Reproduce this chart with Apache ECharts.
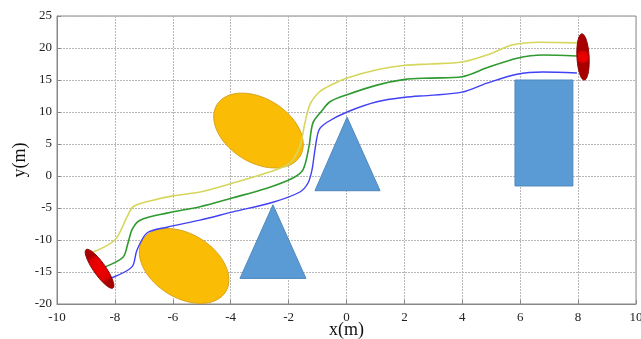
<!DOCTYPE html>
<html>
<head>
<meta charset="utf-8">
<script src="https://cdn.jsdelivr.net/npm/echarts@6/dist/echarts.min.js"></script>
<style>
  html, body { margin: 0; padding: 0; background: #fff; }
  #main { width: 641px; height: 339px; }
</style>
</head>
<body>
<div id="main"></div>
<script>
// trajectories [x, y] in metres
var yellowPath = [[-8.76,-11.9],[-8.0,-10.0],[-7.58,-6.4],[-7.37,-4.8],[-6.79,-3.9],[-6.0,-3.1],[-5.06,-2.5],[-3.92,-1.1],[-2.75,0.5],[-1.95,2.0],[-1.6,4.8],[-1.45,8.0],[-1.26,11.2],[-0.92,13.2],[-0.5,14.3],[0.02,15.3],[1.05,16.6],[2.02,17.3],[2.88,17.5],[3.99,17.8],[4.85,18.9],[5.75,20.5],[6.68,20.9],[7.96,20.8]];
var greenPath = [[-8.34,-14.2],[-7.72,-12.7],[-7.55,-10.5],[-7.4,-8.3],[-7.13,-6.9],[-6.2,-5.8],[-5.06,-4.8],[-3.92,-3.4],[-2.75,-1.9],[-1.85,-0.3],[-1.5,1.0],[-1.3,4.5],[-1.16,8.3],[-0.85,10.2],[-0.57,11.6],[0.02,12.7],[1.05,14.2],[2.02,15.1],[2.88,15.3],[3.99,15.5],[4.85,16.9],[5.89,18.4],[6.79,18.9],[7.96,18.75]];
var bluePath = [[-8.1,-15.9],[-7.41,-14.2],[-7.24,-11.6],[-6.89,-8.9],[-6.2,-8.0],[-5.06,-6.9],[-3.92,-5.6],[-2.54,-4.1],[-1.61,-2.5],[-1.33,-1.1],[-1.19,1.0],[-1.09,4.1],[-0.95,7.2],[-0.67,8.4],[0.02,10.0],[1.05,11.6],[2.02,12.3],[2.88,12.6],[3.99,13.1],[4.85,14.5],[5.89,15.9],[6.79,16.25],[7.96,16.1]];

// obstacles: ellipse [cx, cy, semi-major, semi-minor (x units), angle deg]
var orangeEllipses = [[-3.04,7.1,1.69,1.1,32],[-5.61,-14.06,1.69,1.1,32]];
var redEllipses = [[-8.53,-14.5,0.81,0.21,55],[8.17,18.6,0.8,0.21,87]];
// triangles [x1,y1,x2,y2,x3,y3]
var triangles = [[-2.54,-4.5,-3.68,-16.0,-1.4,-16.0],[0.02,9.2,-1.09,-2.3,1.16,-2.3]];
// rectangle [x0,y0,x1,y1]
var rects = [[5.82,15.0,7.82,-1.56]];

var serif = '"Liberation Serif", "DejaVu Serif", serif';

function ellipseItem(fill, stroke) {
  return function (params, api) {
    var c = api.coord([api.value(0), api.value(1)]);
    var unit = api.size([1, 0])[0];
    var A = api.value(2) * unit, B = api.value(3) * unit;
    var th = api.value(4) * Math.PI / 180;
    var pts = [];
    for (var i = 0; i < 72; i++) {
      var t = i / 72 * Math.PI * 2;
      pts.push([
        c[0] + A * Math.cos(t) * Math.cos(th) - B * Math.sin(t) * Math.sin(th),
        c[1] + A * Math.cos(t) * Math.sin(th) + B * Math.sin(t) * Math.cos(th)
      ]);
    }
    return { type: 'polygon', shape: { points: pts }, style: { fill: fill, stroke: stroke, lineWidth: 1 } };
  };
}

function polyItem(params, api) {
  var pts = [];
  for (var i = 0; i < 3; i++) pts.push(api.coord([api.value(i * 2), api.value(i * 2 + 1)]));
  return { type: 'polygon', shape: { points: pts }, style: { fill: '#5b9bd5', stroke: '#4f88bd', lineWidth: 1 } };
}

function rectItem(params, api) {
  var p0 = api.coord([api.value(0), api.value(1)]);
  var p1 = api.coord([api.value(2), api.value(3)]);
  return { type: 'rect', shape: { x: p0[0], y: p0[1], width: p1[0] - p0[0], height: p1[1] - p0[1] },
    style: { fill: '#5b9bd5', stroke: '#4f88bd', lineWidth: 1 } };
}

var myChart = echarts.init(document.getElementById('main'));
var option = {
  animation: false,
  grid: { left: 57, right: 5, top: 16, bottom: 35, outerBoundsMode: 'none', containLabel: false,
    show: true, borderColor: '#888', borderWidth: 1 },
  xAxis: {
    type: 'value', min: -10, max: 10, interval: 2,
    name: 'x(m)', nameLocation: 'middle', nameGap: 17, nameMoveOverlap: false,
    nameTextStyle: { fontFamily: serif, fontSize: 18, color: '#111' },
    axisLine: { onZero: false, lineStyle: { color: '#888' } },
    axisTick: { inside: true, length: 4, lineStyle: { color: '#888' } },
    axisLabel: { fontFamily: serif, fontSize: 13, color: '#222', margin: 7 },
    splitLine: { lineStyle: { color: '#b8b8b8', type: [2, 1] } }
  },
  yAxis: {
    type: 'value', min: -20, max: 25, interval: 5,
    name: 'y(m)', nameLocation: 'middle', nameGap: 28, nameMoveOverlap: false,
    nameTextStyle: { fontFamily: serif, fontSize: 18, color: '#111' },
    axisLine: { show: true, onZero: false, lineStyle: { color: '#888' } },
    axisTick: { show: true, inside: true, length: 4, lineStyle: { color: '#888' } },
    axisLabel: { fontFamily: serif, fontSize: 13, color: '#222', margin: 5 },
    splitLine: { lineStyle: { color: '#b8b8b8', type: [2, 1] } }
  },
  series: [
    { type: 'custom', renderItem: ellipseItem('#fbbc05', '#d9a21a'), data: orangeEllipses, encode: { x: 0, y: 1 }, z: 1 },
    { type: 'custom', renderItem: polyItem, data: triangles, encode: { x: [0, 2, 4], y: [1, 3, 5] }, z: 1 },
    { type: 'custom', renderItem: rectItem, data: rects, encode: { x: [0, 2], y: [1, 3] }, z: 1 },
    { type: 'line', data: yellowPath, smooth: 0.3, symbol: 'none', lineStyle: { color: '#d6d65c', width: 1.6 }, z: 2 },
    { type: 'line', data: greenPath, smooth: 0.3, symbol: 'none', lineStyle: { color: '#2f9a2f', width: 1.6 }, z: 2 },
    { type: 'line', data: bluePath, smooth: 0.3, symbol: 'none', lineStyle: { color: '#4040f5', width: 1.4 }, z: 2 },
    { type: 'custom', renderItem: ellipseItem({
        type: 'radial', x: 0.5, y: 0.5, r: 0.5,
        colorStops: [{ offset: 0, color: '#f00000' }, { offset: 0.8, color: '#e00000' }, { offset: 1, color: '#a80000' }]
      }, '#8a0000'), data: redEllipses, encode: { x: 0, y: 1 }, z: 3 }
  ]
};
myChart.setOption(option);
</script>
</body>
</html>
